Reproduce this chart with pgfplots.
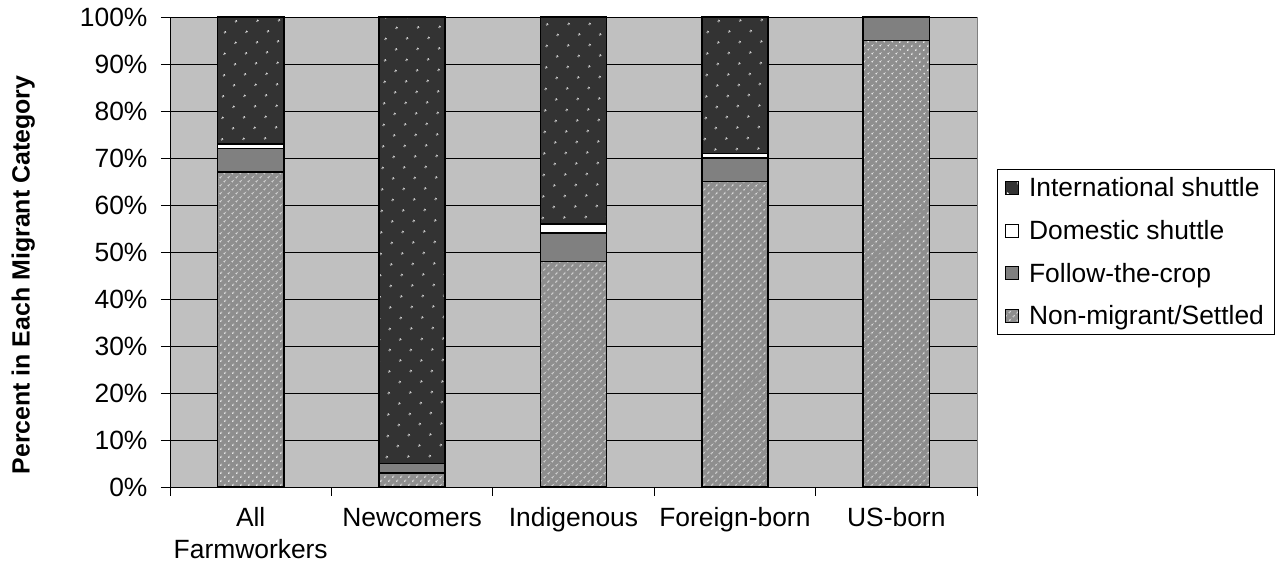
\documentclass[border=0pt]{standalone}
\usepackage{pgfplots}
\pgfplotsset{compat=1.18}
\usepackage{fontspec}
\setmainfont{Liberation Sans}
\usetikzlibrary{patterns.meta}
\definecolor{plotbg}{HTML}{C0C0C0}
\definecolor{intl}{HTML}{333333}
\definecolor{follow}{HTML}{808080}
\definecolor{settled}{HTML}{8E8E8E}
\begin{document}
\begin{tikzpicture}
\useasboundingbox (-170bp,-77bp) rectangle (1116bp,487bp);
\begin{axis}[
  at={(0,0)}, anchor=south west,
  scale only axis,
  width=807bp, height=470bp,
  ybar stacked,
  bar width=0.41,
  xmin=-0.5, xmax=4.5,
  ymin=0, ymax=100,
  axis background/.style={fill=plotbg, draw=follow},
  axis lines*=left,
  axis line style={black, line width=0.8bp},
  tick align=outside,
  major tick length=9bp,
  minor tick length=9bp,
  tick style={black, line width=0.8bp},
  xtick={0,1,2,3,4},
  xticklabels={{\strut All\\Farmworkers},{\strut Newcomers\\\mbox{}},{\strut Indigenous\\\mbox{}},{\strut Foreign-born\\\mbox{}},{\strut US-born\\\mbox{}}},
  x tick style={draw=none},
  minor xtick={-0.5,0.5,1.5,2.5,3.5,4.5},
  minor x tick style={draw=black},
  xticklabel style={align=center, font=\fontsize{26.5}{32}\selectfont, anchor=north, yshift=-5bp},
  ytick={0,10,...,100},
  yticklabel={\pgfmathprintnumber{\tick}\%},
  yticklabel style={font=\fontsize{26.5}{32}\selectfont, xshift=-10bp},
  /pgf/number format/assume math mode=true,
  ymajorgrids,
  grid style={black, line width=0.8bp},
  ylabel={\bfseries Percent in Each Migrant Category},
  ylabel style={font=\fontsize{25}{30}\selectfont, at={(axis description cs:-0.182,0.451)}, anchor=center},
  legend style={at={(1.0248,0.5)}, anchor=west, draw=black, line width=0.6bp,
    font=\fontsize{26.5}{32}\selectfont, inner xsep=8bp, inner ysep=6bp, row sep=18bp,
    column sep=8bp, fill=white},
  legend cell align=left,
  reverse legend,
  legend image code/.code={\draw[#1, line width=0.8bp] (0bp,-6.5bp) rectangle (13bp,6.5bp);},
  every axis plot/.append style={draw=black, line width=1.5bp},
]
\addplot[preaction={fill=settled}, pattern={Dots[radius=1.2bp, distance=6bp, angle=45]}, pattern color=white!92!gray]
  coordinates {(0,67) (1,3) (2,48) (3,65) (4,95)};
\addlegendentry{Non-migrant/Settled}
\addplot[fill=follow]
  coordinates {(0,5) (1,2) (2,6) (3,5) (4,5)};
\addlegendentry{Follow-the-crop}
\addplot[fill=white]
  coordinates {(0,1) (1,0) (2,2) (3,1) (4,0)};
\addlegendentry{Domestic shuttle}
\addplot[preaction={fill=intl}, pattern={Dots[radius=1.2bp, distance=15bp, angle=45]}, pattern color=white!92!gray]
  coordinates {(0,27) (1,95) (2,44) (3,29) (4,0)};
\addlegendentry{International shuttle}
\end{axis}
\end{tikzpicture}
\end{document}
